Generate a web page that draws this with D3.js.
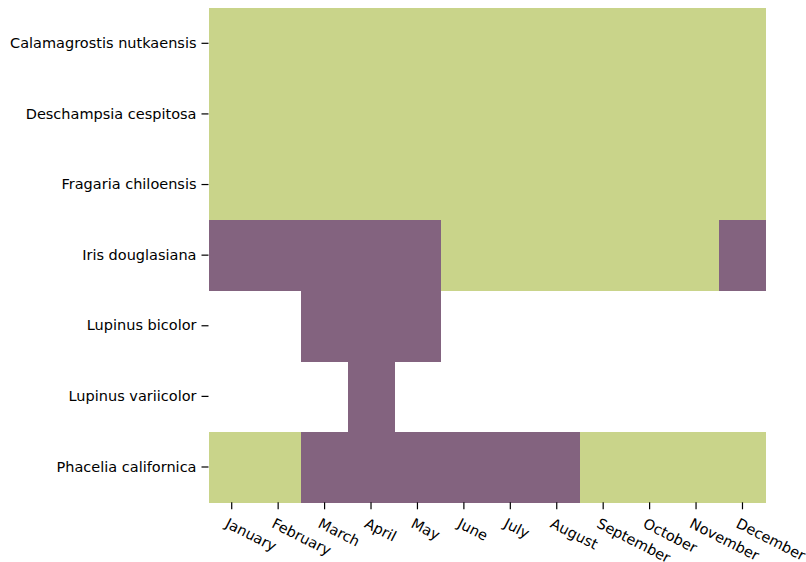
<!DOCTYPE html>
<html><head><meta charset="utf-8">
<script src="https://cdn.jsdelivr.net/npm/d3@7"></script>
<style>body{margin:0;background:#fff}svg{display:block}text{font-family:"DejaVu Sans",sans-serif;}</style>
</head><body><svg id="c" width="806" height="562"></svg>
<script>
const months = ["January","February","March","April","May","June","July","August","September","October","November","December"];
const species = ["Calamagrostis nutkaensis","Deschampsia cespitosa","Fragaria chiloensis","Iris douglasiana","Lupinus bicolor","Lupinus variicolor","Phacelia californica"];
// 0 = none, 1 = green (foliage), 2 = purple (bloom)
const calamagrostis = [1,1,1,1,1,1,1,1,1,1,1,1];
const deschampsia   = [1,1,1,1,1,1,1,1,1,1,1,1];
const fragaria      = [1,1,1,1,1,1,1,1,1,1,1,1];
const iris          = [2,2,2,2,2,1,1,1,1,1,1,2];
const lupinusB      = [0,0,2,2,2,0,0,0,0,0,0,0];
const lupinusV      = [0,0,0,2,0,0,0,0,0,0,0,0];
const phacelia      = [1,1,2,2,2,2,2,2,1,1,1,1];
const rows = [calamagrostis,deschampsia,fragaria,iris,lupinusB,lupinusV,phacelia];
const colors = {1:"#c9d48a",2:"#83637f"};

const svg = d3.select("#c");
const L=208.5, R=765.7, T=8, B=502.3;
const x = d3.scaleBand().domain(months).range([L,R]);
const y = d3.scaleBand().domain(species).range([T,B]);

const cells=[];
rows.forEach((r,i)=>r.forEach((v,j)=>{ if(v) cells.push({s:species[i],m:months[j],v}); }));
svg.append("g").attr("shape-rendering","crispEdges").selectAll("rect").data(cells).join("rect")
  .attr("x",d=>x(d.m)).attr("y",d=>y(d.s))
  .attr("width",x.bandwidth()+0.6).attr("height",y.bandwidth()+0.6)
  .attr("fill",d=>colors[d.v]);

const fs = 14.5;
const ya = svg.append("g").attr("transform",`translate(${L},0)`)
  .call(d3.axisLeft(y).tickSize(7).tickPadding(5));
ya.select(".domain").remove();
ya.selectAll("line").attr("stroke","#000").attr("stroke-width",1.2);
ya.selectAll("text").attr("font-size",fs).attr("fill","#000").attr("font-family","DejaVu Sans");

const xa = svg.append("g").attr("transform",`translate(0,${B})`)
  .call(d3.axisBottom(x).tickSize(7).tickPadding(4));
xa.select(".domain").remove();
xa.selectAll("line").attr("stroke","#000").attr("stroke-width",1.2);
xa.selectAll("text").attr("font-size",fs).attr("fill","#000").attr("font-family","DejaVu Sans")
  .attr("text-anchor","start").attr("dy",null).attr("y",null)
  .attr("transform","translate(-7.5,24.5) rotate(27)");
</script></body></html>
